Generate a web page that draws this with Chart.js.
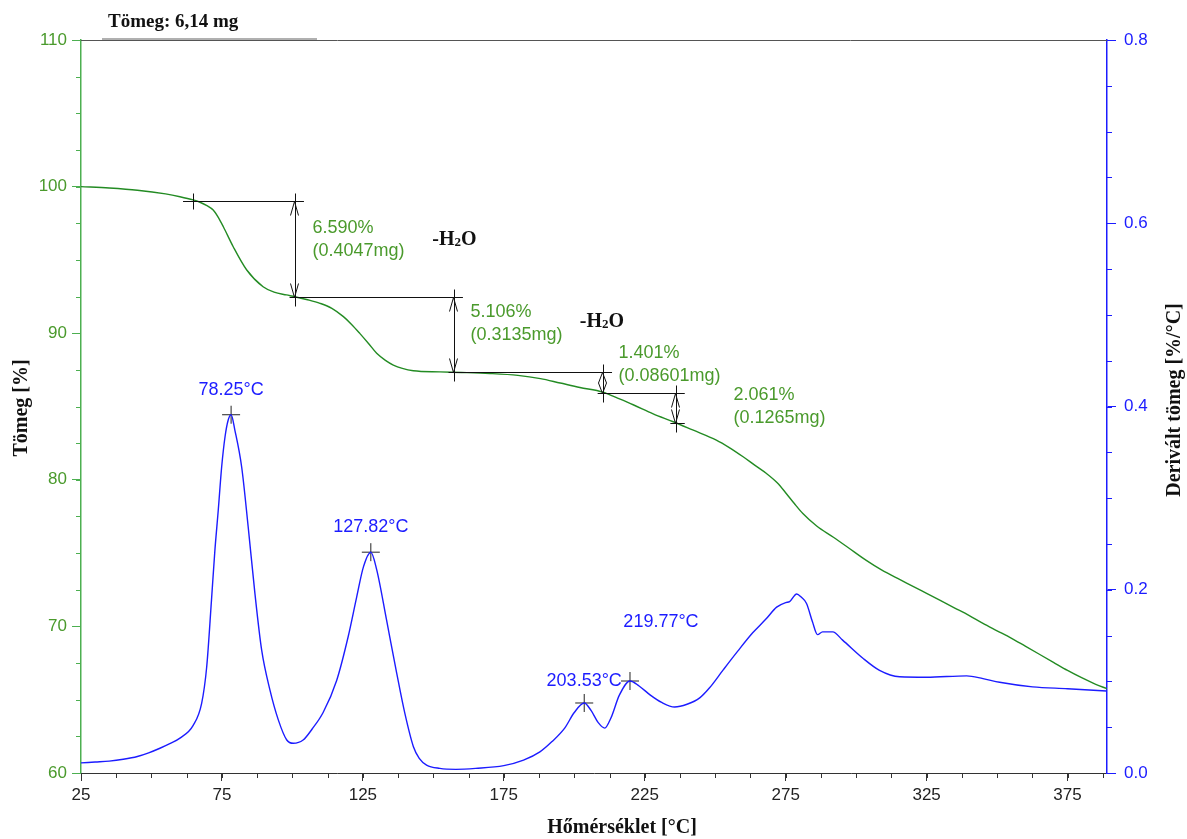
<!DOCTYPE html>
<html>
<head>
<meta charset="utf-8">
<script src="https://cdn.jsdelivr.net/npm/chart.js@4.4.1/dist/chart.umd.min.js"></script>
<style>
  html, body { margin: 0; padding: 0; background: #ffffff; }
  canvas { display: block; }
</style>
</head>
<body>
<canvas id="c" width="1187" height="839"></canvas>
<script>
// Thermogravimetric curve: temperature [°C] and residual mass [%]
const tgTemp = [25, 35, 45, 55, 60.1, 64.8, 67, 69.5, 71.9, 73.7, 75.5, 79, 83.8, 89.6, 93.5, 97.9, 100.9, 105, 109.8, 114, 118.1, 121, 123.9, 127, 129.9, 133, 135.8, 139, 142.9, 152.3, 160, 170, 180, 188, 195, 202, 210.2, 215, 220.9, 228, 235.1, 242, 250.4, 255, 259.9, 264, 268.2, 272, 275.2, 278, 281.1, 286, 291.8, 297, 303.6, 309, 315.4, 320, 325, 330, 335, 340, 345, 350, 355, 360, 365, 370, 375, 380, 385, 389];
const tgMass = [100.0, 99.9, 99.75, 99.5, 99.31, 99.09, 98.95, 98.72, 98.4, 97.9, 97.26, 95.9, 94.31, 93.17, 92.8, 92.61, 92.49, 92.3, 92.04, 91.7, 91.13, 90.6, 89.99, 89.3, 88.63, 88.15, 87.83, 87.6, 87.44, 87.36, 87.32, 87.25, 87.12, 86.9, 86.6, 86.3, 85.98, 85.6, 85.12, 84.5, 83.96, 83.4, 82.71, 82.2, 81.57, 81.0, 80.43, 79.8, 79.07, 78.4, 77.7, 76.85, 76.1, 75.4, 74.5, 73.85, 73.2, 72.75, 72.25, 71.75, 71.25, 70.75, 70.2, 69.7, 69.2, 68.65, 68.1, 67.55, 67.0, 66.5, 66.05, 65.75];

// Derivative curve: temperature [°C] and mass-loss rate [%/°C]
const dtgTemp = [25, 30, 35, 40, 45, 49, 53, 56.5, 60.1, 64.8, 67.8, 69.6, 71.3, 72.5, 73.7, 74.9, 76.1, 77.2, 78.25, 79.6, 82.0, 84.3, 86.7, 89.1, 92.0, 95.0, 98.0, 100.3, 103.8, 107, 110.9, 115.7, 119.8, 122.8, 125.2, 127.82, 129.9, 133.4, 137.0, 139.9, 142.9, 145, 147.6, 152.3, 158, 165, 175, 182, 187.8, 192, 196.6, 200, 203.53, 206, 208.5, 210.8, 213, 216, 219.77, 223, 227, 231, 235.6, 240, 244.5, 248, 252.7, 258, 263.3, 268, 271.8, 275, 276.4, 278.9, 280.5, 282.4, 284.5, 286.3, 288.1, 291.7, 295.2, 302.3, 308.3, 315.4, 325, 339.2, 345, 350.9, 362.6, 375, 388.8];
const dtgRate = [0.011, 0.012, 0.013, 0.015, 0.018, 0.022, 0.027, 0.032, 0.038, 0.052, 0.076, 0.116, 0.189, 0.243, 0.287, 0.334, 0.367, 0.385, 0.391, 0.374, 0.334, 0.269, 0.196, 0.134, 0.091, 0.058, 0.036, 0.0324, 0.036, 0.048, 0.066, 0.101, 0.149, 0.192, 0.225, 0.241, 0.222, 0.167, 0.109, 0.065, 0.029, 0.016, 0.0087, 0.005, 0.004, 0.005, 0.008, 0.014, 0.023, 0.034, 0.049, 0.066, 0.0764, 0.068, 0.055, 0.049, 0.06, 0.085, 0.1004, 0.095, 0.085, 0.077, 0.072, 0.075, 0.082, 0.093, 0.112, 0.133, 0.153, 0.168, 0.181, 0.186, 0.187, 0.1954, 0.192, 0.185, 0.165, 0.151, 0.154, 0.154, 0.145, 0.1255, 0.112, 0.105, 0.1045, 0.106, 0.103, 0.099, 0.094, 0.092, 0.0895];

// Derivative peaks
const peakTemp = [78.25, 127.82, 203.53, 219.77];
const peakRate = [0.391, 0.241, 0.0764, 0.1004];

// Mass-loss steps
const stepStartTemp = 64.7;
const stepStartMass = 99.05;
const stepArrowTemp = [100.5, 156.9, 209.8, 235.6];
const stepLossPct = [6.590, 5.106, 1.401, 2.061];
const stepLossMg = [0.4047, 0.3135, 0.08601, 0.1265];

// Water-loss labels anchored in data units
const waterLabelTemp = [157.5, 209.8];
const waterLabelMass = [96.5, 90.9];

// Axis ticks
const xTicks = [25, 75, 125, 175, 225, 275, 325, 375];
const xMinorStep = 12.5;
const yLeftTicks = [60, 70, 80, 90, 100, 110];
const yLeftMinorStep = 2.5;
const yRightTicks = [0.0, 0.2, 0.4, 0.6, 0.8];
const yRightMinorStep = 0.05;

const sampleTitle = 'Tömeg: 6,14 mg';

const GREEN_AXIS = '#4caf50';
const GREEN_TEXT = '#4a9a2c';
const GREEN_LINE = '#238b23';
const BLUE = '#1c1cff';
const SANS = "'Liberation Sans', Arial, sans-serif";
const SERIF = "'Liberation Serif', 'Times New Roman', serif";

const decor = {
  id: 'decor',
  afterDraw(chart) {
    const ctx = chart.ctx;
    const xs = chart.scales.x, yl = chart.scales.y, yr = chart.scales.y1;
    const area = chart.chartArea;
    ctx.save();

    // frame top line and weight caption
    ctx.strokeStyle = '#555';
    ctx.lineWidth = 1;
    ctx.beginPath();
    ctx.moveTo(area.left, area.top + 0.5);
    ctx.lineTo(area.right, area.top + 0.5);
    ctx.stroke();
    ctx.strokeStyle = '#b0b0b0';
    ctx.lineWidth = 2;
    ctx.beginPath();
    ctx.moveTo(102, area.top - 1);
    ctx.lineTo(317, area.top - 1);
    ctx.stroke();
    ctx.fillStyle = '#111';
    ctx.font = 'bold 19px ' + SERIF;
    ctx.textAlign = 'left';
    ctx.textBaseline = 'middle';
    ctx.fillText(sampleTitle, 108, 22);

    // minor ticks
    const minor = (scale, step, len, dir, color) => {
      ctx.strokeStyle = color;
      ctx.lineWidth = 1;
      ctx.beginPath();
      for (let v = scale.min; v <= scale.max + 1e-9; v += step) {
        const p = scale.getPixelForValue(v);
        if (scale.isHorizontal()) {
          const xp = Math.round(p) + 0.5;
          ctx.moveTo(xp, area.bottom);
          ctx.lineTo(xp, area.bottom + len);
        } else {
          const yp = Math.round(p) + 0.5;
          const x0 = dir < 0 ? area.left : area.right;
          ctx.moveTo(x0, yp);
          ctx.lineTo(x0 + dir * len, yp);
        }
      }
      ctx.stroke();
    };
    minor(xs, xMinorStep, 5, 1, '#333');
    minor(yl, yLeftMinorStep, 5, -1, GREEN_AXIS);
    minor(yr, yRightMinorStep, 5, 1, BLUE);

    // axis titles
    ctx.fillStyle = '#111';
    ctx.font = 'bold 20px ' + SERIF;
    ctx.textAlign = 'center';
    ctx.textBaseline = 'middle';
    ctx.fillText('Hőmérséklet [°C]', 622, 828);
    ctx.save();
    ctx.translate(22, 408);
    ctx.rotate(-Math.PI / 2);
    ctx.fillText('Tömeg [%]', 0, 0);
    ctx.restore();
    ctx.save();
    ctx.translate(1175, 400);
    ctx.rotate(-Math.PI / 2);
    ctx.fillText('Derivált tömeg [%/°C]', 0, 0);
    ctx.restore();

    // mass-loss step markers
    const levels = [stepStartMass];
    stepLossPct.forEach((d, i) => levels.push(levels[i] - d));
    const px = t => xs.getPixelForValue(t);
    const py = m => Math.round(yl.getPixelForValue(m)) + 0.5;
    ctx.strokeStyle = '#111';
    ctx.lineWidth = 1;
    const hline = (t0, t1, m) => {
      ctx.beginPath();
      ctx.moveTo(px(t0), py(m));
      ctx.lineTo(px(t1), py(m));
      ctx.stroke();
    };
    const vline = (xp, y0, y1) => {
      ctx.beginPath();
      ctx.moveTo(Math.round(xp) + 0.5, y0);
      ctx.lineTo(Math.round(xp) + 0.5, y1);
      ctx.stroke();
    };
    // start tick
    vline(px(stepStartTemp), py(stepStartMass) - 8, py(stepStartMass) + 8);
    const overhang = 3.6;
    for (let k = 0; k < levels.length; k++) {
      const prev = k === 0 ? stepStartTemp : stepArrowTemp[k - 1];
      const next = k < stepArrowTemp.length ? stepArrowTemp[k] : stepArrowTemp[stepArrowTemp.length - 1];
      hline(prev - (k === 0 ? 3.5 : 1.5), next + overhang, levels[k]);
    }
    const labelShift = [[18, -21], [17, -23], [16, -30], [58, -13]];
    stepArrowTemp.forEach((t, i) => {
      const xp = Math.round(px(t)) + 0.5;
      const yTop = py(levels[i]);
      const yBot = py(levels[i + 1]);
      vline(xp, yTop - 8, yBot + 9);
      const h = Math.min(14, (yBot - yTop) / 2);
      ctx.beginPath();
      ctx.moveTo(xp - 4, yTop + h); ctx.lineTo(xp, yTop); ctx.lineTo(xp + 4, yTop + h);
      ctx.moveTo(xp - 4, yBot - h); ctx.lineTo(xp, yBot); ctx.lineTo(xp + 4, yBot - h);
      ctx.stroke();
      // loss labels
      ctx.fillStyle = GREEN_TEXT;
      ctx.font = '18px ' + SANS;
      ctx.textAlign = 'left';
      ctx.textBaseline = 'middle';
      const mid = (yTop + yBot) / 2;
      const lx = xp + labelShift[i][0];
      const ly = mid + labelShift[i][1];
      ctx.fillText(stepLossPct[i].toFixed(3) + '%', lx, ly);
      ctx.fillText('(' + stepLossMg[i] + 'mg)', lx, ly + 23);
    });

    // water-loss labels
    waterLabelTemp.forEach((t, i) => {
      const cx = px(t);
      const cy = yl.getPixelForValue(waterLabelMass[i]);
      ctx.fillStyle = '#111';
      ctx.textBaseline = 'alphabetic';
      ctx.textAlign = 'left';
      const a = '-H', c = 'O';
      ctx.font = 'bold 20px ' + SERIF;
      const wa = ctx.measureText(a).width, wc = ctx.measureText(c).width;
      ctx.font = 'bold 13px ' + SERIF;
      const wb = ctx.measureText('2').width;
      const x0 = cx - (wa + wb + wc) / 2;
      const base = cy + 7;
      ctx.font = 'bold 20px ' + SERIF;
      ctx.fillText(a, x0, base);
      ctx.font = 'bold 13px ' + SERIF;
      ctx.fillText('2', x0 + wa, base + 1);
      ctx.font = 'bold 20px ' + SERIF;
      ctx.fillText(c, x0 + wa + wb, base);
    });

    // peak temperature labels
    const meta = chart.getDatasetMeta(2);
    const peakShift = [[0, -25], [0, -25], [0, -22], [31, -59]];
    ctx.fillStyle = BLUE;
    ctx.font = '18px ' + SANS;
    ctx.textAlign = 'center';
    ctx.textBaseline = 'middle';
    meta.data.forEach((pt, i) => {
      ctx.fillText(peakTemp[i].toFixed(2) + '°C', pt.x + peakShift[i][0], pt.y + peakShift[i][1]);
    });

    ctx.restore();
  }
};

const tgPoints = tgTemp.map((t, i) => ({ x: t, y: tgMass[i] }));
const dtgPoints = dtgTemp.map((t, i) => ({ x: t, y: dtgRate[i] }));
const peakPoints = peakTemp.map((t, i) => ({ x: t, y: peakRate[i] }));

new Chart(document.getElementById('c'), {
  type: 'line',
  data: {
    datasets: [
      { label: 'Tömeg', data: tgPoints, yAxisID: 'y', borderColor: GREEN_LINE, borderWidth: 1.4,
        pointRadius: 0, cubicInterpolationMode: 'monotone', fill: false },
      { label: 'Derivált tömeg', data: dtgPoints, yAxisID: 'y1', borderColor: BLUE, borderWidth: 1.4,
        pointRadius: 0, cubicInterpolationMode: 'monotone', fill: false },
      { label: 'Csúcs', data: peakPoints, yAxisID: 'y1', showLine: false, pointStyle: 'cross',
        pointRadius: 9, pointBorderColor: '#222', borderColor: '#222', pointBorderWidth: 1, pointHoverRadius: 9 }
    ]
  },
  options: {
    responsive: false,
    animation: false,
    devicePixelRatio: 1,
    layout: { padding: { top: 40, left: 0, right: 0, bottom: 0 } },
    plugins: { legend: { display: false }, tooltip: { enabled: false } },
    scales: {
      x: {
        type: 'linear', min: 25, max: 389,
        afterBuildTicks: s => { s.ticks = xTicks.map(v => ({ value: v })); },
        afterFit: s => { s.height = 66; },
        border: { color: '#333', width: 1 },
        grid: { drawOnChartArea: false, drawTicks: true, tickLength: 8, color: '#333' },
        ticks: { color: '#222', font: { family: SANS, size: 17 }, padding: 4, maxRotation: 0 }
      },
      y: {
        position: 'left', min: 60, max: 110,
        afterBuildTicks: s => { s.ticks = yLeftTicks.map(v => ({ value: v })); },
        afterFit: s => { s.width = 81; },
        border: { color: GREEN_AXIS, width: 1.5 },
        grid: { drawOnChartArea: false, drawTicks: true, tickLength: 9, color: GREEN_AXIS },
        ticks: { color: GREEN_TEXT, font: { family: SANS, size: 17 }, padding: 5 }
      },
      y1: {
        position: 'right', min: 0, max: 0.8,
        afterBuildTicks: s => { s.ticks = yRightTicks.map(v => ({ value: v })); },
        afterFit: s => { s.width = 80; },
        border: { color: BLUE, width: 1.5 },
        grid: { drawOnChartArea: false, drawTicks: true, tickLength: 9, color: BLUE },
        ticks: { color: BLUE, font: { family: SANS, size: 17 }, padding: 8,
                 callback: v => Number(v).toFixed(1) }
      }
    }
  },
  plugins: [decor]
});
</script>
</body>
</html>
